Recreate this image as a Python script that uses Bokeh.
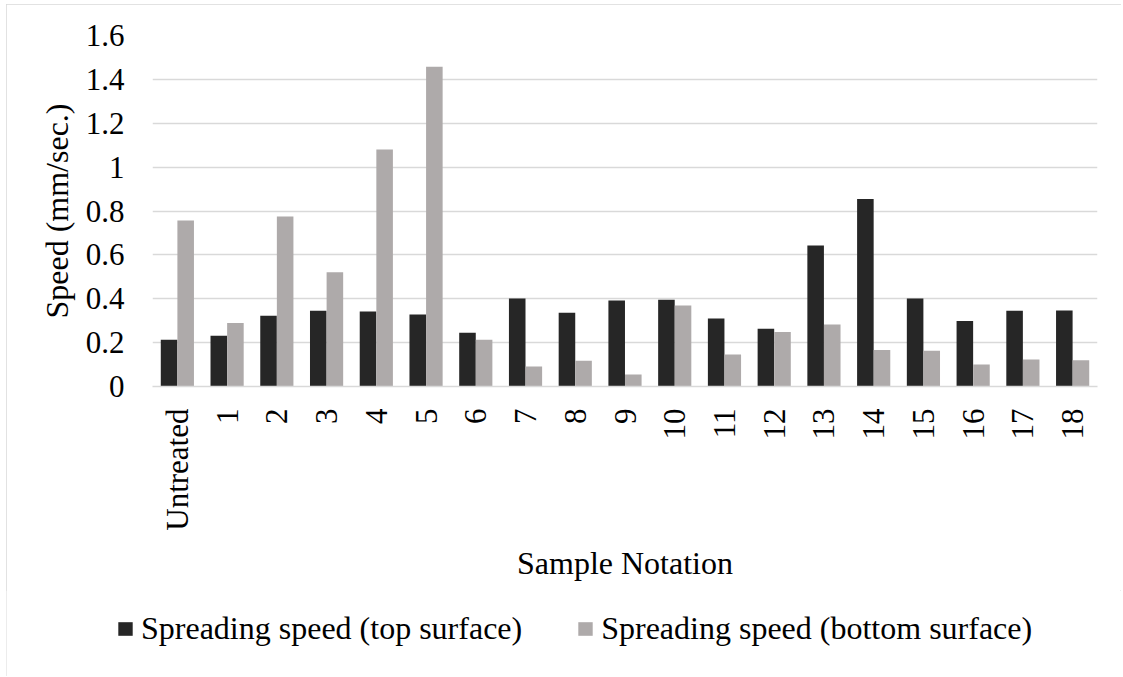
from bokeh.plotting import figure
from bokeh.models import (FactorRange, Range1d, FixedTicker, NumeralTickFormatter,
                          Legend, LegendItem, ColumnDataSource)
from bokeh.layouts import column
from bokeh.transform import dodge
from bokeh.embed import file_html
from bokeh.resources import INLINE
import math

categories = ["Untreated", "1", "2", "3", "4", "5", "6", "7", "8", "9", "10",
              "11", "12", "13", "14", "15", "16", "17", "18"]
top_surface = [0.213, 0.231, 0.322, 0.345, 0.342, 0.328, 0.245, 0.401, 0.336, 0.392,
               0.395, 0.310, 0.263, 0.643, 0.855, 0.401, 0.299, 0.345, 0.346]
bottom_surface = [0.757, 0.290, 0.775, 0.521, 1.080, 1.458, 0.213, 0.091, 0.117, 0.055,
                  0.369, 0.146, 0.249, 0.283, 0.166, 0.163, 0.100, 0.123, 0.120]
y_ticks = [0, 0.2, 0.4, 0.6, 0.8, 1.0, 1.2, 1.4, 1.6]
series_names = ["Spreading speed (top surface)", "Spreading speed (bottom surface)"]

FONT = "Liberation Serif"
DARK = "#262626"
LIGHT = "#aeaaaa"
GRID = "#d9d9d9"

src = ColumnDataSource(dict(cat=categories, top=top_surface, bottom=bottom_surface))

W = 1115
p = figure(x_range=FactorRange(*categories, range_padding=0),
           y_range=Range1d(0, 1.6),
           width=W, height=586,
           output_backend="svg", toolbar_location=None,
           min_border_left=146, min_border_right=24,
           min_border_top=31, min_border_bottom=204)
p.outline_line_color = None

r1 = p.vbar(x=dodge("cat", -0.167, range=p.x_range), top="top", width=0.333,
            source=src, fill_color=DARK, line_color=None)
r2 = p.vbar(x=dodge("cat", 0.167, range=p.x_range), top="bottom", width=0.333,
            source=src, fill_color=LIGHT, line_color=None)

# axes
p.yaxis.ticker = FixedTicker(ticks=y_ticks)
p.yaxis.formatter = NumeralTickFormatter(format="0.[0]")
p.yaxis.axis_line_color = None
p.yaxis.major_tick_line_color = None
p.yaxis.minor_tick_line_color = None
p.yaxis.major_tick_out = 0
p.yaxis.major_label_standoff = 28
p.yaxis.major_label_text_font = FONT
p.yaxis.major_label_text_font_size = "31px"
p.yaxis.major_label_text_color = "black"
p.yaxis.axis_label = "Speed (mm/sec.)"
p.yaxis.axis_label_text_font = FONT
p.yaxis.axis_label_text_font_size = "32px"
p.yaxis.axis_label_text_font_style = "normal"
p.yaxis.axis_label_text_color = "black"
p.yaxis.axis_label_standoff = 8

p.xaxis.axis_line_color = GRID
p.xaxis.axis_line_width = 1.5
p.xaxis.major_tick_line_color = None
p.xaxis.major_tick_out = 0
p.xaxis.major_label_orientation = math.pi / 2
p.xaxis.major_label_standoff = 22
p.xaxis.major_label_text_font = FONT
p.xaxis.major_label_text_font_size = "31px"
p.xaxis.major_label_text_color = "black"
p.xaxis.axis_label = "Sample Notation"
p.xaxis.axis_label_text_font = FONT
p.xaxis.axis_label_text_font_size = "32px"
p.xaxis.axis_label_text_font_style = "normal"
p.xaxis.axis_label_text_color = "black"
p.xaxis.axis_label_standoff = 11

p.xgrid.grid_line_color = None
p.ygrid.grid_line_color = GRID
p.ygrid.grid_line_width = 1.5

# legend strip below the chart (its own frame, not aligned to the chart's frame)
lg = figure(width=W, height=86, x_range=Range1d(0, 1), y_range=Range1d(0, 1),
            x_axis_type=None, y_axis_type=None,
            output_backend="svg", toolbar_location=None,
            min_border_left=0, min_border_right=0, min_border_top=0, min_border_bottom=0)
lg.frame_align = False
lg.outline_line_color = None
lg.xgrid.grid_line_color = None
lg.ygrid.grid_line_color = None
# zero-size placeholder glyphs, only used to draw the legend swatches
d1 = lg.vbar(x=[0], top=[0], bottom=[0], width=0, fill_color=DARK, line_color=None)
d2 = lg.vbar(x=[0], top=[0], bottom=[0], width=0, fill_color=LIGHT, line_color=None)

legend = Legend(items=[
    LegendItem(label=series_names[0], renderers=[d1]),
    LegendItem(label=series_names[1], renderers=[d2]),
], orientation="horizontal", location=(110, 29))
legend.label_text_font = FONT
legend.label_text_font_size = "32px"
legend.label_text_color = "black"
legend.glyph_width = 18
legend.glyph_height = 17
legend.label_standoff = 7
legend.spacing = 54
legend.padding = 0
legend.margin = 0
legend.border_line_color = None
legend.background_fill_alpha = 0
lg.add_layout(legend, "center")

layout = column(p, lg, spacing=0)
layout.styles = {"margin-left": "6px", "margin-top": "4px",
                 "outline": "1.5px solid #d9d9d9", "outline-offset": "-1.5px"}

open("out.html", "w").write(file_html(layout, INLINE))
